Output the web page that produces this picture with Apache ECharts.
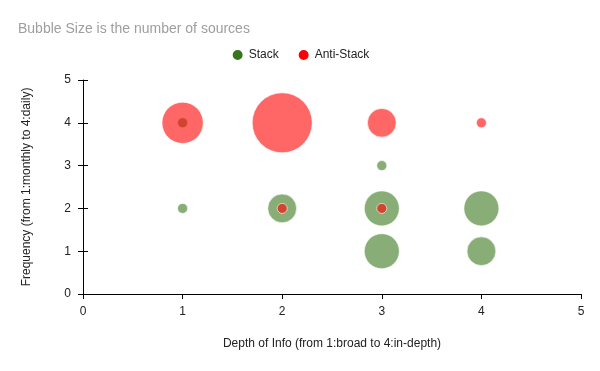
<!DOCTYPE html>
<html><head><meta charset="utf-8">
<script src="https://cdn.jsdelivr.net/npm/echarts@6/dist/echarts.min.js"></script>
<style>html,body{margin:0;padding:0;background:#fff}#c{width:600px;height:371px}</style>
</head><body><div id="c"></div>
<script>
var titleText = 'Bubble Size is the number of sources';
var xName = 'Depth of Info (from 1:broad to 4:in-depth)';
var yName = 'Frequency (from 1:monthly to 4:daily)';
var stackX = [1, 2, 3, 3, 3, 4, 4, 1];
var stackY = [2, 2, 3, 2, 1, 2, 1, 4];
var stackSize = [1, 4, 1, 5, 5, 5, 4, 1];
var antiX = [1, 2, 3, 4, 2, 3];
var antiY = [4, 4, 4, 4, 2, 2];
var antiSize = [6, 9, 4, 1, 1, 1];
var ticks = [0, 1, 2, 3, 4, 5];

var GREEN = '#38761d', RED = '#ff0000';
function pts(xs, ys, ss) {
  var out = [];
  for (var i = 0; i < xs.length; i++) out.push([xs[i], ys[i], ss[i]]);
  out.sort(function(a, b){ return b[2] - a[2]; });
  return out;
}
var allS = stackSize.concat(antiSize);
var sMin = Math.min.apply(null, allS), sMax = Math.max.apply(null, allS);
function sz(d) { return 2 * (5 + (d[2] - sMin) / (sMax - sMin) * 25); }
function mk(name, color, data, z) {
  return { name: name, type: 'scatter', data: data, symbolSize: sz, z: z,
    itemStyle: { color: color, opacity: 0.6, borderColor: '#fff', borderWidth: 1 },
    emphasis: { disabled: true } };
}
var FONT = 'Liberation Sans, Arial';
var axisCommon = {
  min: ticks[0], max: ticks[ticks.length - 1], interval: 1,
  splitLine: { show: false },
  axisLine: { show: true, lineStyle: { color: '#000', width: 1 } }
};
var option = {
  animation: false,
  color: [GREEN, RED],
  title: { text: titleText, left: 13, top: 17,
    textStyle: { fontFamily: FONT, fontSize: 14, fontWeight: 'normal', color: '#9e9e9e' } },
  legend: { top: 43, left: 'center', itemWidth: 12, itemHeight: 12, itemGap: 18,
    icon: 'circle', data: [{ name: 'Stack', itemStyle: { color: GREEN, opacity: 1 } }, { name: 'Anti-Stack', itemStyle: { color: RED, opacity: 1 } }],
    textStyle: { fontFamily: FONT, fontSize: 12, color: '#222' } },
  grid: { left: 83, right: 19, top: 80, bottom: 77 },
  xAxis: [
    Object.assign({ type: 'value', name: xName, nameLocation: 'middle', nameGap: 44,
      nameTextStyle: { fontFamily: FONT, fontSize: 12, color: '#222' },
      axisTick: { show: true, length: 5, lineStyle: { color: '#000' } },
      axisLabel: { margin: 12, fontFamily: FONT, fontSize: 12, color: '#222' } }, axisCommon),
    Object.assign({}, axisCommon, { type: 'value', axisLine: { show: false },
      axisTick: { show: true, inside: true, length: 5, lineStyle: { color: '#000' } }, axisLabel: { show: false } })
  ],
  yAxis: [
    Object.assign({ type: 'value', name: yName, nameLocation: 'middle', nameGap: 50,
      nameTextStyle: { fontFamily: FONT, fontSize: 12, color: '#222' },
      axisTick: { show: true, length: 5, lineStyle: { color: '#000' } },
      axisLabel: { margin: 12, fontFamily: FONT, fontSize: 12, color: '#222' } }, axisCommon),
    Object.assign({}, axisCommon, { type: 'value', position: 'left', axisLine: { show: false },
      axisTick: { show: true, inside: true, length: 5, lineStyle: { color: '#000' } }, axisLabel: { show: false } })
  ],
  series: [
    mk('Stack', GREEN, pts(stackX, stackY, stackSize), 2),
    mk('Anti-Stack', RED, pts(antiX, antiY, antiSize), 3)
  ]
};
echarts.init(document.getElementById('c')).setOption(option);
</script></body></html>
